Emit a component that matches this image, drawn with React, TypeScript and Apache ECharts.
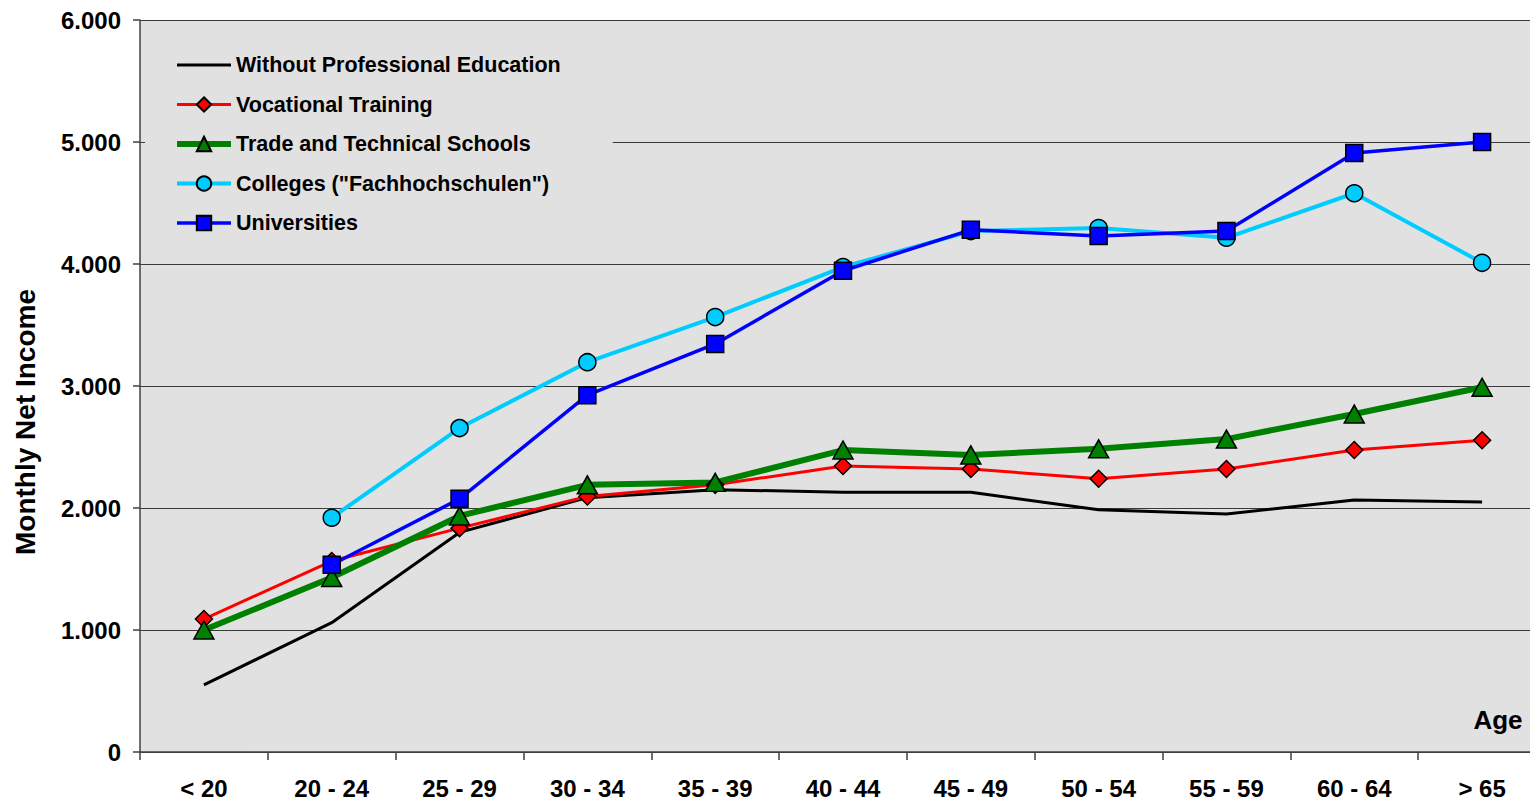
import React, { useEffect, useRef } from "react";
import * as echarts from "echarts";

// Age brackets on the category axis
const ageGroups = ["< 20", "20 - 24", "25 - 29", "30 - 34", "35 - 39", "40 - 44", "45 - 49", "50 - 54", "55 - 59", "60 - 64", "> 65"];

// Monthly net income by level of education
const withoutProfessional = [550, 1060, 1800, 2085, 2150, 2130, 2130, 1985, 1950, 2065, 2050];
const vocationalTraining = [1090, 1565, 1835, 2095, 2190, 2345, 2320, 2240, 2320, 2475, 2555];
const tradeTechnical = [1000, 1430, 1935, 2190, 2210, 2475, 2435, 2485, 2565, 2770, 2990];
const colleges = [null, 1920, 2655, 3195, 3565, 3975, 4270, 4295, 4215, 4580, 4010];
const universities = [null, 1535, 2075, 2925, 3345, 3945, 4280, 4230, 4270, 4910, 5000];

const yTicks = [0, 1000, 2000, 3000, 4000, 5000, 6000];

const FONT = "'Liberation Sans', Arial, sans-serif";
const PLOT_BG = "#e1e1e1";

const fmt = (v: number) => (v === 0 ? "0" : String(v).replace(/\B(?=(\d{3})+(?!\d))/g, "."));

export default function App() {
  const ref = useRef<HTMLDivElement>(null);

  useEffect(() => {
    if (!ref.current) return;
    const chart = echarts.init(ref.current, undefined, { renderer: "svg" });

    const markerStyle = (color: string) => ({ color, borderColor: "#000", borderWidth: 1.5 });

    chart.setOption({
      animation: false,
      backgroundColor: "#fff",
      grid: {
        left: 140,
        top: 20,
        right: 0,
        bottom: 51,
        show: true,
        backgroundColor: PLOT_BG,
        borderWidth: 0,
      },
      legend: {
        orient: "vertical",
        left: 145,
        top: 31,
        backgroundColor: PLOT_BG,
        padding: [23, 52, 22, 29],
        itemWidth: 54,
        itemHeight: 18,
        itemGap: 17.5,
        textStyle: { fontFamily: FONT, fontWeight: "bold", fontSize: 21.5, color: "#000" },
        data: [
          { name: "Without Professional Education", itemStyle: { opacity: 0 }, lineStyle: { width: 3 } },
          { name: "Vocational Training", lineStyle: { width: 3 } },
          { name: "Trade and Technical Schools", lineStyle: { width: 6 } },
          { name: 'Colleges ("Fachhochschulen")', lineStyle: { width: 4 } },
          { name: "Universities", lineStyle: { width: 3.5 } },
        ],
      },
      xAxis: {
        type: "category",
        data: ageGroups,
        boundaryGap: true,
        axisLine: { lineStyle: { color: "#404040", width: 1.5 } },
        axisTick: { show: true, length: 8, lineStyle: { color: "#404040", width: 1.5 } },
        axisLabel: {
          margin: 24,
          fontFamily: FONT,
          fontWeight: "bold",
          fontSize: 24,
          color: "#000",
          interval: 0,
        },
        splitLine: { show: false },
      },
      yAxis: {
        type: "value",
        min: yTicks[0],
        max: yTicks[yTicks.length - 1],
        interval: 1000,
        axisLine: { show: true, lineStyle: { color: "#404040", width: 1.5 } },
        axisTick: { show: true, length: 7, lineStyle: { color: "#404040", width: 1.5 } },
        axisLabel: {
          margin: 19,
          fontFamily: FONT,
          fontWeight: "bold",
          fontSize: 24,
          color: "#000",
          formatter: (v: number) => fmt(v),
        },
        splitLine: { show: true, lineStyle: { color: "#3a3a3a", width: 1 } },
      },
      graphic: [
        {
          type: "text",
          x: 25,
          y: 422,
          rotation: Math.PI / 2,
          style: {
            text: "Monthly Net Income",
            fontFamily: FONT,
            fontWeight: "bold",
            fontSize: 28,
            fill: "#000",
            textAlign: "center",
            textVerticalAlign: "middle",
          },
        },
        {
          type: "text",
          x: 1498,
          y: 720,
          z: 10,
          style: {
            text: "Age",
            fontFamily: FONT,
            fontWeight: "bold",
            fontSize: 26,
            fill: "#000",
            textAlign: "center",
            textVerticalAlign: "middle",
          },
        },
      ],
      series: [
        {
          name: "Without Professional Education",
          type: "line",
          data: withoutProfessional,
          symbol: "circle",
          symbolSize: 0,
          showSymbol: false,
          lineStyle: { color: "#000", width: 3 },
          itemStyle: { color: "#000" },
        },
        {
          name: "Vocational Training",
          type: "line",
          data: vocationalTraining,
          symbol: "diamond",
          symbolSize: 17,
          lineStyle: { color: "#ff0000", width: 3 },
          itemStyle: markerStyle("#ff0000"),
        },
        {
          name: "Trade and Technical Schools",
          type: "line",
          data: tradeTechnical,
          symbol: "triangle",
          symbolSize: [20, 18],
          lineStyle: { color: "#008000", width: 6 },
          itemStyle: markerStyle("#008000"),
        },
        {
          name: 'Colleges ("Fachhochschulen")',
          type: "line",
          data: colleges,
          symbol: "circle",
          symbolSize: 17,
          connectNulls: false,
          lineStyle: { color: "#00ccff", width: 4 },
          itemStyle: markerStyle("#00ccff"),
        },
        {
          name: "Universities",
          type: "line",
          data: universities,
          symbol: "rect",
          symbolSize: 17,
          connectNulls: false,
          lineStyle: { color: "#0000ff", width: 3.5 },
          itemStyle: markerStyle("#0000ff"),
        },
      ],
    });

    return () => chart.dispose();
  }, []);

  // The plot area runs past the right edge of the frame, as the last category band is cut off
  return (
    <div style={{ position: "fixed", left: 0, top: 0, width: 1530, height: 803, overflow: "hidden" }}>
      <div ref={ref} style={{ width: 1546, height: 803 }} />
    </div>
  );
}
